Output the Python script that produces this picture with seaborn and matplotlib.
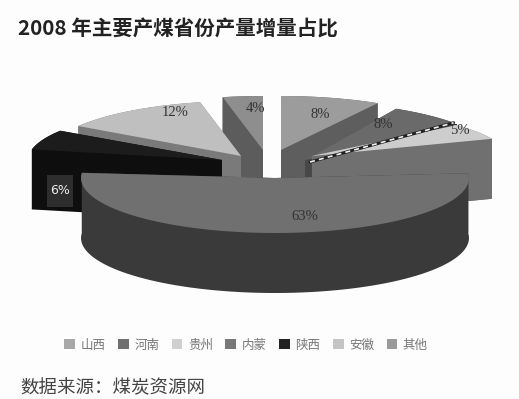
import numpy as np
import matplotlib
matplotlib.use("Agg")
import matplotlib.pyplot as plt
from matplotlib.patches import Polygon, Patch, Rectangle
import seaborn as sns

regions = ["山西", "河南", "贵州", "内蒙", "陕西", "安徽", "其他"]
shares = [8, 8, 5, 63, 6, 12, 4]
title_text = "2008 年主要产煤省份产量增量占比"
source_text = "数据来源：煤炭资源网"

top_colors = ["#9c9c9c", "#6a6a6a", "#cdcdcd", "#707070", "#1c1c1c", "#bfbfbf", "#8e8e8e"]
side_colors = ["#5e5e5e", "#484848", "#737373", "#3a3a3a", "#0e0e0e", "#7a7a7a", "#5c5c5c"]
legend_colors = ["#a8a8a8", "#707070", "#cfcfcf", "#787878", "#222222", "#c4c4c4", "#9a9a9a"]

sns.set_theme(style="white")
plt.rcParams["font.family"] = ["Noto Sans CJK SC", "DejaVu Sans"]

fig, ax = plt.subplots(figsize=(5.19, 3.99), dpi=100)
fig.patch.set_facecolor("#fdfdfd")
ax.set_position([0, 0, 1, 1])
ax.set_xlim(0, 519)
ax.set_ylim(399, 0)
ax.axis("off")

# layout of the exploded pie (pixel space, degrees clockwise from the top)
apex_x = [281, 305, 312, 275, 222, 241, 263]
apex_y = [150, 160, 156, 178, 160, 156, 150]
rx = 194
ry = [54, 58, 46, 55, 53, 55, 54]
depth = 60
start_turn = [0, 28, 48, 85, 281.5, 303, 348]
span_scale = [1.10, 0.81, 1.18, 0.89, 1.08, 1.10, 0.88]
draw_order = [6, 0, 5, 1, 2, 4, 3]
label_x = [320, 383, 460, 305, 60, 175, 255]
label_y = [115, 124, 131, 216, 190, 113, 108]

total = sum(shares)


def arc(i, n=80):
    span = shares[i] / total * 360 * span_scale[i]
    t = np.radians(90 - np.linspace(start_turn[i], start_turn[i] + span, n))
    return np.c_[apex_x[i] + rx * np.cos(t), apex_y[i] - ry[i] * np.sin(t)]


for i in draw_order:
    pts = arc(i)
    apex = np.array([apex_x[i], apex_y[i]])
    down = np.array([0, depth])
    for end in (pts[0], pts[-1]):
        ax.add_patch(Polygon([apex, end, end + down, apex + down], fc=side_colors[i], ec="none"))
    ax.add_patch(Polygon(np.r_[pts, (pts + down)[::-1]], fc=side_colors[i], ec="none"))
    if i == 2:  # the cut face of this slice reads as the mid-grey panel on the right
        ax.add_patch(Polygon([apex, pts[-1], pts[-1] + down, apex + down], fc=top_colors[3], ec="none"))
    ax.add_patch(Polygon(np.r_[[apex], pts], fc=top_colors[i], ec="none"))
    if i == 1:
        ax.plot([apex[0] + 5, pts[-1][0]], [apex[1] + 2, pts[-1][1]], color="#222222", lw=2.2)
        ax.plot([apex[0] + 5, pts[-1][0]], [apex[1] + 2, pts[-1][1]], color="#eeeeee", lw=1.2, ls=(0, (3, 2.5)))

for i, v in enumerate(shares):
    lab = f"{v}%"
    if i == 4:
        ax.add_patch(Rectangle((label_x[i] - 13, label_y[i] - 15), 26, 32, fc="#2e2e2e", ec="none"))
        ax.text(label_x[i], label_y[i], lab, color="#ececec", fontsize=9, ha="center", va="center",
                family="DejaVu Sans")
    else:
        ax.text(label_x[i], label_y[i], lab, color="#333333", fontsize=10.5, ha="center", va="center",
                family="Liberation Serif")

handles = [Patch(fc=c, ec="none", label=r) for c, r in zip(legend_colors, regions)]
ax.legend(handles=handles, ncol=7, loc="center", bbox_to_anchor=(246 / 519, 1 - 345 / 399),
          frameon=False, fontsize=9, handlelength=0.85, handleheight=0.85, handletextpad=0.45,
          columnspacing=1.0, labelcolor="#777777", borderpad=0, borderaxespad=0)

ax.text(18, 29, title_text, fontsize=14.8, color="#222222", ha="left", va="center", fontweight="bold")
ax.text(20, 388, source_text, fontsize=13.3, color="#444444", ha="left", va="center")
fig.savefig("out.png", dpi=100, facecolor=fig.get_facecolor())
